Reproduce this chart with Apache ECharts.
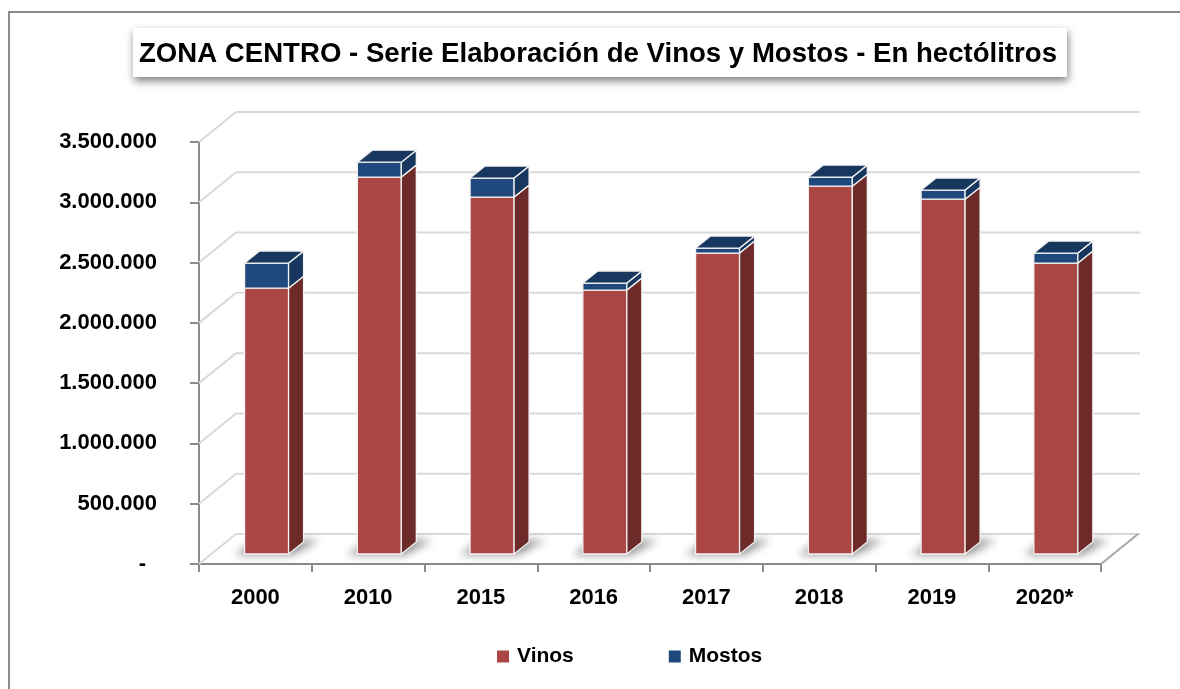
<!DOCTYPE html>
<html>
<head>
<meta charset="utf-8">
<script src="https://cdn.jsdelivr.net/npm/echarts@6/dist/echarts.min.js"></script>
<style>
html,body{margin:0;padding:0;background:#fff;}
#chart{width:1180px;height:689px;}
</style>
</head>
<body>
<div id="chart"></div>
<script>
// ---- data ----
const categories = ['2000', '2010', '2015', '2016', '2017', '2018', '2019', '2020*'];
const vinos  = [2205000, 3126000, 2960000, 2189000, 2496000, 3051000, 2943000, 2413000];
const mostos = [208000, 124000, 158000, 58000, 41000, 75000, 75000, 83000];
const yTicks = [0, 500000, 1000000, 1500000, 2000000, 2500000, 3000000, 3500000];
const yTickLabels = ['-', '500.000', '1.000.000', '1.500.000', '2.000.000', '2.500.000', '3.000.000', '3.500.000'];
const titleText = 'ZONA CENTRO - Serie Elaboración de Vinos y Mostos - En hectólitros';

// ---- 3D look (pixels) ----
const WALL_DX = 37, WALL_DY = -30;     // depth of the whole plot box
const BAR_DX = 11.2, BAR_DY = -10;      // front face of bars behind front plane
const BAR_W = 44;                       // front face width
const SIDE_DX = 15, SIDE_DY = -12;      // bar depth
const EDGE = '#f2f2f2';

const colors = {
  vinos:  {front: '#AA4643', side: '#6C2A28', top: '#8A3835'},
  mostos: {front: '#1F497D', side: '#17375E', top: '#17375E'}
};

const chart = echarts.init(document.getElementById('chart'), null, {renderer: 'canvas'});

function barRender(kind) {
  return function (params, api) {
    const i = params.dataIndex;
    const base = kind === 'mostos' ? vinos[i] : 0;
    const top = base + api.value(1);
    const p0 = api.coord([i, base]);
    const p1 = api.coord([i, top]);
    const fl = p0[0] + BAR_DX - BAR_W / 2;
    const fr = fl + BAR_W;
    const yb = p0[1] + BAR_DY;
    const yt = p1[1] + BAR_DY;
    const c = colors[kind];
    const children = [];
    if (kind === 'vinos') {
      // soft floor shadow (only the shadow is visible; the shape is off-screen)
      const off = 4000;
      children.push({
        type: 'polygon', silent: true,
        shape: {points: [[fl - 10 - off, yb + 1], [fr + 4 - off, yb + 1], [fr + SIDE_DX + 16 - off, yb + SIDE_DY - 2], [fl + SIDE_DX - 4 - off, yb + SIDE_DY - 2]]},
        style: {fill: '#000', shadowBlur: 9, shadowOffsetX: off, shadowOffsetY: 0, shadowColor: 'rgba(0,0,0,0.42)'}
      });
    }
    children.push({
      type: 'rect', shape: {x: fl, y: yt, width: BAR_W, height: yb - yt},
      style: {fill: c.front, stroke: EDGE, lineWidth: 1.3}
    });
    children.push({
      type: 'polygon',
      shape: {points: [[fr, yt], [fr + SIDE_DX, yt + SIDE_DY], [fr + SIDE_DX, yb + SIDE_DY], [fr, yb]]},
      style: {fill: c.side, stroke: EDGE, lineWidth: 1.3}
    });
    if (kind === 'mostos') {
      children.push({
        type: 'polygon',
        shape: {points: [[fl, yt], [fl + SIDE_DX, yt + SIDE_DY], [fr + SIDE_DX, yt + SIDE_DY], [fr, yt]]},
        style: {fill: c.top, stroke: EDGE, lineWidth: 1.3}
      });
    }
    return {type: 'group', children: children};
  };
}

function wallRender(params, api) {
  const v = api.value(0);
  const p = api.coord([0, v]);
  const cs = params.coordSys;
  const left = cs.x, right = cs.x + cs.width;
  const y = p[1];
  const children = [
    {type: 'line', silent: true, shape: {x1: left, y1: y, x2: left + WALL_DX, y2: y + WALL_DY},
     style: {stroke: '#d9d9d9', lineWidth: 2}},
    {type: 'line', silent: true, shape: {x1: left + WALL_DX, y1: y + WALL_DY, x2: right + WALL_DX + 2, y2: y + WALL_DY},
     style: {stroke: '#d9d9d9', lineWidth: 2}}
  ];
  if (v === 0) {
    children.push({type: 'line', silent: true, shape: {x1: right, y1: y, x2: right + WALL_DX, y2: y + WALL_DY},
      style: {stroke: '#a6a6a6', lineWidth: 2}});
  }
  return {type: 'group', children: children};
}

// title scaling to the reference width
const titleFont = "bold 28px 'Liberation Sans Narrow', 'Liberation Sans', Arial, sans-serif";
const cv = document.createElement('canvas').getContext('2d');
cv.font = titleFont;
const tw = cv.measureText(titleText).width;
const titleScale = 918 / tw;

const option = {
  backgroundColor: '#ffffff',
  animation: false,
  graphic: [
    {type: 'rect', z: -10, shape: {x: 9, y: 12, width: 1400, height: 900},
     style: {fill: 'none', stroke: '#8c8c8c', lineWidth: 2}},
    {type: 'rect', z: 10, shape: {x: 133, y: 28, width: 934, height: 49},
     style: {fill: '#ffffff', shadowBlur: 8, shadowOffsetX: 1, shadowOffsetY: 4, shadowColor: 'rgba(0,0,0,0.5)'}},
    {type: 'text', z: 11, x: 598, y: 54, scaleX: titleScale, scaleY: 1,
     style: {text: titleText, font: titleFont, fill: '#000', align: 'center', verticalAlign: 'middle'}}
  ],
  legend: {
    left: 492, top: 641,
    itemWidth: 12, itemHeight: 12, itemGap: 95, icon: 'rect',
    textStyle: {fontFamily: "'Liberation Sans', Arial, sans-serif", fontWeight: 'bold', fontSize: 21, color: '#000', padding: [0, 0, 0, 3]},
    data: [{name: 'Vinos', itemStyle: {color: colors.vinos.front}}, {name: 'Mostos', itemStyle: {color: colors.mostos.front}}]
  },
  grid: {left: 199, right: 79, top: 142, bottom: 125, containLabel: false},
  xAxis: {
    type: 'category', data: categories, boundaryGap: true,
    axisLine: {lineStyle: {color: '#8a8a8a', width: 2}},
    axisTick: {show: true, length: 8, lineStyle: {color: '#8a8a8a', width: 2}},
    axisLabel: {margin: 23, color: '#000', fontFamily: "'Liberation Sans', Arial, sans-serif", fontWeight: 'bold', fontSize: 22},
    splitLine: {show: false}
  },
  yAxis: {
    type: 'value', min: 0, max: 3500000, interval: 500000,
    axisLine: {show: true, lineStyle: {color: '#8a8a8a', width: 2}},
    axisTick: {show: true, length: 9, lineStyle: {color: '#8a8a8a', width: 2}},
    axisLabel: {
      margin: 42, color: '#000', fontFamily: "'Liberation Sans', Arial, sans-serif", fontWeight: 'bold', fontSize: 22,
      formatter: function (v) {
        const k = yTicks.indexOf(v);
        const s = k >= 0 ? yTickLabels[k] : '';
        return v === 0 ? '{d|' + s + '}' : s;
      },
      rich: {d: {fontFamily: "'Liberation Sans', Arial, sans-serif", fontWeight: 'bold', fontSize: 22, color: '#000', padding: [0, 11, 0, 0]}}
    },
    splitLine: {show: false}
  },
  series: [
    {type: 'custom', name: 'wall', silent: true, z: 1, renderItem: wallRender,
     data: yTicks.map(v => [v]), encode: {y: 0}, tooltip: {show: false}},
    {type: 'custom', name: 'Vinos', z: 3, renderItem: barRender('vinos'), itemStyle: {color: colors.vinos.front},
     data: categories.map((c, i) => [i, vinos[i]]), encode: {x: 0, y: 1}},
    {type: 'custom', name: 'Mostos', z: 4, renderItem: barRender('mostos'), itemStyle: {color: colors.mostos.front},
     data: categories.map((c, i) => [i, mostos[i]]), encode: {x: 0, y: 1}}
  ]
};
chart.setOption(option);
</script>
</body>
</html>
